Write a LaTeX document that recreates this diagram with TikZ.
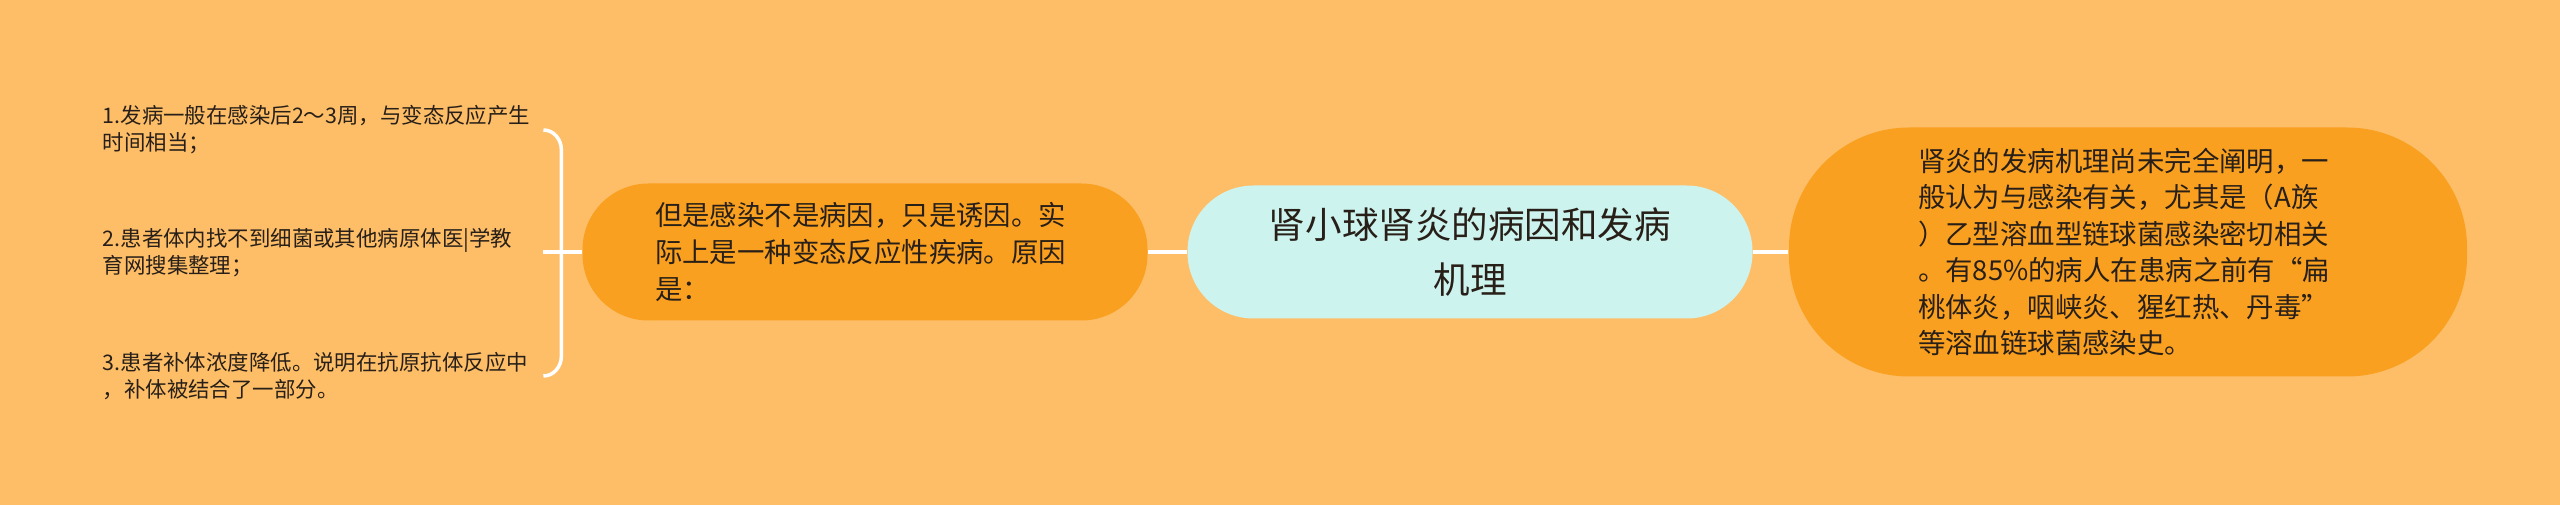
\documentclass[tikz,border=0pt]{standalone}
\usepackage{fontspec}
\newfontfamily\cjk{Noto Sans CJK SC}
\usetikzlibrary{positioning}
\definecolor{bgorange}{RGB}{254,190,104}
\definecolor{nodeorange}{RGB}{250,160,32}
\definecolor{topiccyan}{RGB}{205,243,238}
\definecolor{inkgray}{RGB}{40,32,24}

\begin{document}
\begin{tikzpicture}[
		topic/.style={fill=topiccyan, rounded corners=0.66cm, minimum width=5.65cm, minimum height=1.33cm, align=center, text=inkgray, font=\cjk\fontsize{10.4pt}{15.6pt}\selectfont},
		branch/.style={fill=nodeorange, text width=4.2cm, align=left, text=inkgray, font=\cjk\fontsize{7.8pt}{10.4pt}\selectfont},
		leaf/.style={anchor=west, inner sep=0pt, text width=4.4cm, align=left, text=inkgray, font=\cjk\fontsize{6.1pt}{7.7pt}\selectfont},
		link/.style={white, line width=1pt}
	]
		% Background
		\useasboundingbox[fill=bgorange] (0,0) rectangle (25.6,5.05);

		% Central topic
		\node[topic] (title) at (14.70,2.53) {肾小球肾炎的病因和发病\\机理};

		% Branches
		\node[branch, minimum width=5.65cm, minimum height=1.37cm, rounded corners=0.66cm] (cause) at (8.65,2.53) {但是感染不是病因，只是诱因。实\\际上是一种变态反应性疾病。原因\\是：};
		\node[branch, minimum width=6.78cm, minimum height=2.49cm, rounded corners=1.2cm] (mech) at (21.28,2.53) {肾炎的发病机理尚未完全阐明，一\\般认为与感染有关，尤其是（A族\\）乙型溶血型链球菌感染密切相关\\。有85\%的病人在患病之前有“扁\\桃体炎，咽峡炎、猩红热、丹毒”\\等溶血链球菌感染史。};

		% Leaves
		\node[leaf] (item1) at (1.02,3.75) {1.发病一般在感染后2～3周，与变态反应产生\\时间相当；};
		\node[leaf] (item2) at (1.02,2.52) {2.患者体内找不到细菌或其他病原体医|学教\\育网搜集整理；};
		\node[leaf] (item3) at (1.02,1.29) {3.患者补体浓度降低。说明在抗原抗体反应中\\，补体被结合了一部分。};

		% Connectors
		\draw[link] (cause) -- (title);
		\draw[link] (title) -- (mech);
		\draw[link] (cause.west) -- (cause.west -| item2.east);
		\draw[link] (item1.east) to[out=0,in=90] ([shift={(0.18,-0.2)}]item1.east) -- ([shift={(0.18,0.2)}]item3.east) to[out=-90,in=0] (item3.east);
	\end{tikzpicture}
\end{document}
